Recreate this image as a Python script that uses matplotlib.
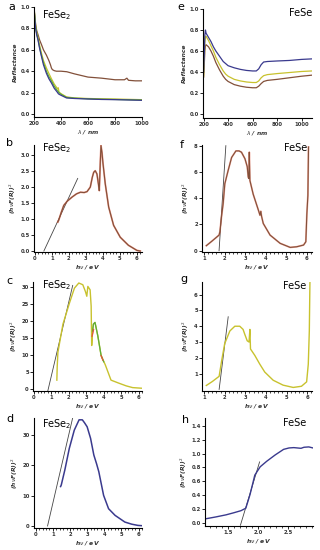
import matplotlib
matplotlib.use("Agg")
import matplotlib.pyplot as plt
from matplotlib.ticker import MultipleLocator, FormatStrFormatter

# ---- data ----
# a: FeSe2 reflectance
a_wl = [200, 205, 212, 220, 230, 242, 255, 270, 292, 310, 322, 329, 336, 350, 366, 400, 443, 500, 600, 700, 800, 870, 888, 900, 950, 1000]
a_brown = [1.0, 0.93, 0.84, 0.78, 0.74, 0.69, 0.65, 0.60, 0.55, 0.50, 0.46, 0.43, 0.415, 0.405, 0.40, 0.40, 0.395, 0.375, 0.345, 0.335, 0.32, 0.32, 0.335, 0.315, 0.31, 0.31]
a_wl2 = [200, 205, 212, 220, 230, 242, 255, 270, 292, 310, 329, 350, 375, 380, 385, 400, 441, 500, 600, 700, 800, 900, 1000]
a_purple = [1.0, 0.90, 0.80, 0.74, 0.69, 0.61, 0.54, 0.46, 0.38, 0.33, 0.29, 0.24, 0.20, 0.19, 0.185, 0.175, 0.15, 0.145, 0.14, 0.136, 0.134, 0.131, 0.128]
a_yellow = [1.0, 0.92, 0.83, 0.76, 0.71, 0.64, 0.57, 0.50, 0.43, 0.38, 0.33, 0.28, 0.235, 0.245, 0.205, 0.19, 0.16, 0.15, 0.145, 0.142, 0.14, 0.137, 0.134]
a_green = [1.0, 0.91, 0.81, 0.75, 0.70, 0.62, 0.55, 0.48, 0.40, 0.35, 0.31, 0.26, 0.215, 0.21, 0.20, 0.185, 0.155, 0.148, 0.142, 0.138, 0.136, 0.133, 0.13]

# e: FeSe reflectance
e_wl = [200, 205, 210, 215, 220, 230, 240, 260, 280, 300, 330, 360, 380, 400, 450, 500, 550, 600, 630, 650, 670, 690, 720, 800, 900, 1000, 1085]
e_purple = [0.40, 0.55, 0.75, 0.80, 0.77, 0.75, 0.73, 0.69, 0.64, 0.60, 0.55, 0.50, 0.48, 0.46, 0.44, 0.425, 0.415, 0.41, 0.41, 0.43, 0.47, 0.495, 0.50, 0.505, 0.51, 0.52, 0.525]
e_yellow = [0.36, 0.50, 0.68, 0.74, 0.74, 0.72, 0.70, 0.65, 0.60, 0.54, 0.47, 0.41, 0.38, 0.36, 0.33, 0.315, 0.305, 0.30, 0.30, 0.315, 0.345, 0.365, 0.375, 0.385, 0.395, 0.405, 0.41]
e_brown = [0.35, 0.46, 0.60, 0.65, 0.66, 0.65, 0.64, 0.60, 0.55, 0.49, 0.42, 0.36, 0.33, 0.31, 0.28, 0.265, 0.255, 0.25, 0.25, 0.265, 0.29, 0.31, 0.32, 0.33, 0.345, 0.36, 0.37]

# b: FeSe2 Tauc plot (brown)
b_ev = [1.35, 1.41, 1.55, 1.7, 1.9, 2.19, 2.45, 2.68, 2.9, 3.07, 3.26, 3.38, 3.46, 3.55, 3.65, 3.75, 3.79, 3.85, 3.89, 3.95, 4.0, 4.14, 4.34, 4.63, 5.02, 5.5, 6.0, 6.2]
b_val = [0.9, 0.97, 1.2, 1.42, 1.55, 1.68, 1.78, 1.83, 1.82, 1.85, 1.99, 2.3, 2.45, 2.5, 2.4, 2.04, 1.88, 2.8, 3.28, 3.05, 2.76, 2.09, 1.37, 0.8, 0.43, 0.18, 0.02, 0.0]
b_tan_x = [0.53, 2.52]
b_tan_y = [0.0, 2.26]

# f: FeSe Tauc plot (brown)
f_ev = [1.11, 1.4, 1.73, 1.77, 1.85, 1.93, 2.01, 2.17, 2.34, 2.55, 2.7, 2.82, 2.99, 3.1, 3.15, 3.18, 3.2, 3.23, 3.39, 3.64, 3.72, 3.76, 3.8, 3.88, 4.21, 4.7, 5.19, 5.51, 5.84, 5.95, 6.0, 6.05, 6.08]
f_val = [0.38, 0.75, 1.19, 1.44, 2.6, 3.6, 5.1, 6.1, 7.1, 7.6, 7.6, 7.5, 7.0, 6.4, 5.6, 5.5, 7.5, 5.35, 4.3, 3.1, 2.7, 3.0, 2.6, 2.07, 1.19, 0.56, 0.25, 0.3, 0.43, 0.68, 2.8, 4.2, 7.9]
f_tan_x = [1.73, 2.06]
f_tan_y = [0.0, 8.0]

# c: FeSe2 Tauc plot (yellow, with green/red overlays)
c_ev = [1.31, 1.33, 1.37, 1.66, 2.04, 2.32, 2.57, 2.8, 2.95, 3.03, 3.09, 3.22, 3.28, 3.31, 3.36, 3.41, 3.5, 3.66, 3.85, 4.1, 4.42, 4.9, 5.3, 5.66, 6.23]
c_val = [2.6, 6.5, 10.8, 19.1, 25.4, 29.7, 31.2, 30.7, 28.7, 27.3, 30.2, 29.2, 24.4, 12.8, 17.0, 19.1, 19.6, 15.7, 9.9, 7.0, 2.6, 1.65, 0.9, 0.4, 0.2]
c_green_ev = [3.36, 3.41, 3.5, 3.66, 3.85, 4.0]
c_green_val = [17.0, 19.1, 19.6, 15.7, 9.9, 8.0]
c_red_ev = [3.33, 3.38, 3.42]
c_red_val = [15.5, 16.5, 17.5]
c_red2_ev = [3.85, 3.9, 3.95]
c_red2_val = [9.8, 9.2, 8.5]
c_tan_x = [0.78, 2.22]
c_tan_y = [-0.8, 30.5]

# g: FeSe Tauc plot (yellow)
g_ev = [1.11, 1.4, 1.73, 1.85, 2.0, 2.25, 2.49, 2.73, 2.89, 2.97, 3.09, 3.18, 3.22, 3.25, 3.46, 3.7, 3.94, 4.35, 4.83, 5.32, 5.72, 5.97, 6.05, 6.1, 6.13]
g_val = [0.25, 0.5, 0.83, 1.8, 2.9, 3.7, 4.0, 4.0, 3.8, 3.5, 3.08, 3.0, 3.8, 2.56, 2.15, 1.6, 1.1, 0.58, 0.27, 0.125, 0.2, 0.48, 1.6, 3.7, 6.8]
g_tan_x = [1.73, 2.17]
g_tan_y = [0.0, 4.6]

# d: FeSe2 Tauc plot (purple)
d_ev = [1.45, 1.49, 1.7, 1.96, 2.25, 2.53, 2.72, 2.85, 3.0, 3.2, 3.39, 3.55, 3.68, 3.96, 4.25, 4.63, 5.2, 5.6, 5.96, 6.2]
d_val = [13.0, 13.5, 18.5, 25.6, 31.6, 35.0, 35.0, 34.0, 32.7, 28.9, 23.4, 20.5, 17.9, 10.1, 5.7, 3.5, 1.3, 0.6, 0.2, 0.1]
d_tan_x = [0.69, 2.15]
d_tan_y = [0.0, 35.5]

# h: FeSe Tauc plot zoom (purple)
h_ev = [1.11, 1.3, 1.47, 1.6, 1.72, 1.8, 1.87, 1.95, 2.04, 2.15, 2.29, 2.43, 2.52, 2.6, 2.66, 2.72, 2.77, 2.85, 2.92]
h_val = [0.06, 0.09, 0.12, 0.15, 0.18, 0.215, 0.41, 0.69, 0.81, 0.89, 0.98, 1.06, 1.08, 1.085, 1.08, 1.075, 1.09, 1.095, 1.08]
h_tan_x = [1.71, 2.03]
h_tan_y = [-0.03, 0.88]

BROWN = "#82503a"
PURPLE = "#3a3a8e"
YELLOW = "#c8c22e"
GREEN = "#5cae3c"
RED = "#e2553a"
TAN = "#454545"

W, H = 320, 550
fig = plt.figure(figsize=(W / 100, H / 100), dpi=100)


def axes_px(left, right, top, bottom):
    return fig.add_axes([left / W, 1 - bottom / H, (right - left) / W, (bottom - top) / H])


def style(ax, xlabel, ylabel):
    for s in ("top", "right"):
        ax.spines[s].set_visible(False)
    for s in ("left", "bottom"):
        ax.spines[s].set_linewidth(0.8)
    ax.tick_params(labelsize=3.8, length=2, width=0.6, pad=1)
    ax.tick_params(which="minor", length=1.2, width=0.5)
    for lab in ax.get_xticklabels() + ax.get_yticklabels():
        lab.set_fontweight("bold")
        lab.set_color("#333333")
    ax.set_xlabel(xlabel, fontsize=4.3, style="italic", fontweight="bold", labelpad=1, color="#333333")
    ax.set_ylabel(ylabel, fontsize=4.3, style="italic", fontweight="bold", labelpad=2, color="#333333")


def tag(x, y, s, size=8, ha="left"):
    fig.text(x / W, 1 - y / H, s, fontsize=size, ha=ha, va="center")


TAUC = "(h$\\nu$F(R))$^2$"
EV = "h$\\nu$ / eV"
LW = 0.9

# a
ax = axes_px(34, 142, 7, 117)
ax.plot(a_wl, a_brown, color=BROWN, lw=LW)
ax.plot(a_wl2, a_yellow, color=YELLOW, lw=LW)
ax.plot(a_wl2, a_green, color=GREEN, lw=LW)
ax.plot(a_wl2, a_purple, color=PURPLE, lw=LW)
ax.set_xlim(200, 1000)
ax.set_ylim(-0.028, 1.0)
ax.set_xticks([200, 400, 600, 800, 1000])
ax.set_yticks([0.0, 0.2, 0.4, 0.6, 0.8, 1.0])
ax.yaxis.set_major_formatter(FormatStrFormatter("%.1f"))
style(ax, "$\\lambda$ / nm", "Reflectance")

# e
ax = axes_px(203, 312, 9, 118)
ax.plot(e_wl, e_brown, color=BROWN, lw=LW)
ax.plot(e_wl, e_yellow, color=YELLOW, lw=LW)
ax.plot(e_wl, e_purple, color=PURPLE, lw=LW)
ax.set_xlim(195, 1085)
ax.set_ylim(-0.038, 1.0)
ax.set_xticks([200, 400, 600, 800, 1000])
ax.set_yticks([0.0, 0.2, 0.4, 0.6, 0.8, 1.0])
ax.yaxis.set_major_formatter(FormatStrFormatter("%.1f"))
style(ax, "$\\lambda$ / nm", "Reflectance")

# b
ax = axes_px(34, 142, 145, 252)
ax.plot(b_tan_x, b_tan_y, color=TAN, lw=0.6)
ax.plot(b_ev, b_val, color=RED, lw=1.3, alpha=0.6)
ax.plot(b_ev, b_val, color=BROWN, lw=0.8)
ax.set_xlim(-0.05, 6.3)
ax.set_ylim(-0.03, 3.3)
ax.set_xticks(range(0, 7))
ax.xaxis.set_minor_locator(MultipleLocator(0.2))
ax.set_yticks([0.0, 0.5, 1.0, 1.5, 2.0, 2.5, 3.0])
ax.yaxis.set_major_formatter(FormatStrFormatter("%.1f"))
style(ax, EV, TAUC)

# f
ax = axes_px(202, 312, 145, 252)
ax.plot(f_tan_x, f_tan_y, color=TAN, lw=0.6)
ax.plot(f_ev, f_val, color=RED, lw=1.3, alpha=0.5)
ax.plot(f_ev, f_val, color=BROWN, lw=0.8)
ax.set_xlim(0.9, 6.25)
ax.set_ylim(-0.1, 8.05)
ax.set_xticks(range(1, 7))
ax.xaxis.set_minor_locator(MultipleLocator(0.2))
ax.set_yticks([0, 2, 4, 6, 8])
style(ax, EV, TAUC)

# c
ax = axes_px(33, 142, 282, 391)
ax.plot(c_tan_x, c_tan_y, color=TAN, lw=0.6)
ax.plot(c_ev, c_val, color=YELLOW, lw=1.0)
ax.plot(c_green_ev, c_green_val, color=GREEN, lw=0.9)
ax.plot(c_red_ev, c_red_val, color=RED, lw=0.9)
ax.plot(c_red2_ev, c_red2_val, color=RED, lw=0.9)
ax.set_xlim(-0.06, 6.2)
ax.set_ylim(-0.6, 31.5)
ax.set_xticks(range(0, 7))
ax.xaxis.set_minor_locator(MultipleLocator(0.2))
ax.set_yticks([0, 5, 10, 15, 20, 25, 30])
style(ax, EV, TAUC)

# g
ax = axes_px(202, 312, 282, 391)
ax.plot(g_tan_x, g_tan_y, color=TAN, lw=0.6)
ax.plot(g_ev, g_val, color=YELLOW, lw=1.0)
ax.set_xlim(0.9, 6.23)
ax.set_ylim(-0.1, 6.8)
ax.set_xticks(range(1, 7))
ax.xaxis.set_minor_locator(MultipleLocator(0.2))
ax.set_yticks(range(1, 7))
style(ax, EV, TAUC)

# d
ax = axes_px(34, 142, 418, 528)
ax.plot(d_tan_x, d_tan_y, color=TAN, lw=0.6)
ax.plot(d_ev, d_val, color=PURPLE, lw=1.1)
ax.set_xlim(-0.1, 6.2)
ax.set_ylim(-0.66, 35.6)
ax.set_xticks(range(0, 7))
ax.xaxis.set_minor_locator(MultipleLocator(0.2))
ax.set_yticks([0, 10, 20, 30])
style(ax, EV, TAUC)

# h
ax = axes_px(205, 313, 418, 526)
ax.plot(h_tan_x, h_tan_y, color=TAN, lw=0.6)
ax.plot(h_ev, h_val, color=PURPLE, lw=1.0)
ax.set_xlim(1.12, 2.92)
ax.set_ylim(-0.04, 1.51)
ax.set_xticks([1.5, 2.0, 2.5])
ax.xaxis.set_minor_locator(MultipleLocator(0.1))
ax.set_yticks([0.0, 0.2, 0.4, 0.6, 0.8, 1.0, 1.2, 1.4])
ax.yaxis.set_major_formatter(FormatStrFormatter("%.1f"))
style(ax, EV, TAUC)

# panel letters and sample names
for x, y, s in [(8, 7, "a"), (177, 7, "e"), (6, 143, "b"), (180, 145, "f"),
                (6, 281, "c"), (180, 279, "g"), (6, 419, "d"), (182, 420, "h")]:
    tag(x, y, s, size=8)
for x, y in [(42, 15), (42, 148), (42, 285), (42, 424)]:
    tag(x, y, "FeSe$_2$", size=7)
for x, y in [(312, 13), (307, 148), (306, 286), (306, 423)]:
    tag(x, y, "FeSe", size=7, ha="right")

fig.savefig("out.png", dpi=100)
